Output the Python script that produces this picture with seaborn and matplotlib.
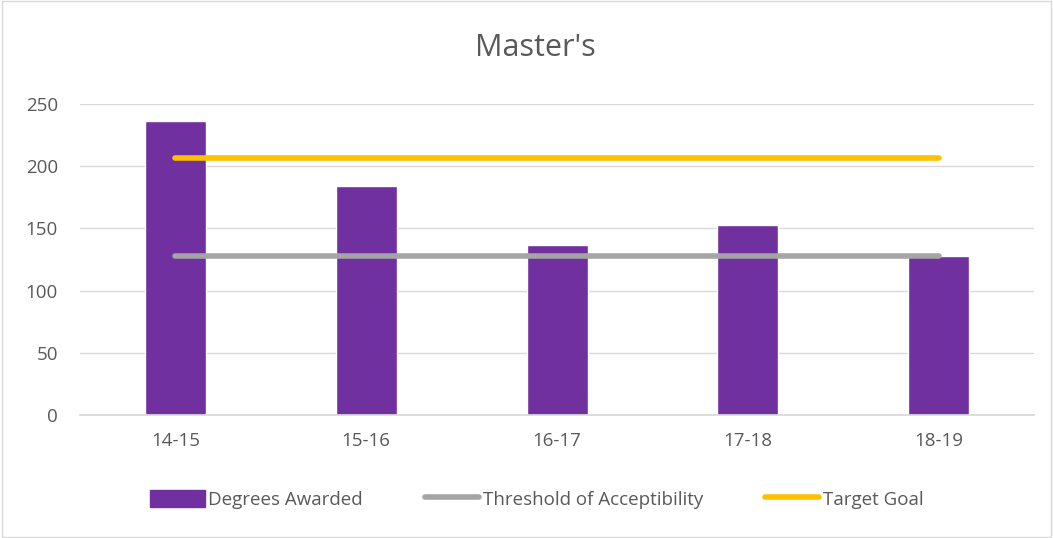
import matplotlib
matplotlib.use("Agg")
import matplotlib.pyplot as plt
import seaborn as sns
import pandas as pd
from matplotlib.patches import Patch
from matplotlib.lines import Line2D

years = ["14-15", "15-16", "16-17", "17-18", "18-19"]
degrees = [236, 184, 137, 153, 128]
threshold = [128, 128, 128, 128, 128]
target = [207, 207, 207, 207, 207]

purple = "#7030A0"
gray = "#A5A5A5"
gold = "#FFC000"
textc = "#595959"

sns.set_theme(style="white")
plt.rcParams["font.family"] = ["Open Sans", "DejaVu Sans"]

fig = plt.figure(figsize=(10.53, 5.38), dpi=100)
ax = fig.add_axes([0.076, 0.2286, 0.906, 0.578])

df = pd.DataFrame({"year": years, "deg": degrees, "thr": threshold, "tgt": target})
sns.barplot(data=df, x="year", y="deg", color=purple, width=0.32, saturation=1, ax=ax)
xs = list(range(len(years)))
sns.lineplot(x=xs, y=threshold, color=gray, linewidth=4, ax=ax, solid_capstyle="round")
sns.lineplot(x=xs, y=target, color=gold, linewidth=4, ax=ax, solid_capstyle="round")

ax.set_xlim(-0.5, 4.5)
ax.set_ylim(0, 250)
ax.set_yticks([0, 50, 100, 150, 200, 250])
ax.set_xticks(xs)
ax.set_xticklabels(years)
ax.yaxis.grid(True, color="#D9D9D9", linewidth=1)
ax.set_axisbelow(True)
for s in ["top", "right", "left"]:
    ax.spines[s].set_visible(False)
ax.spines["bottom"].set_color("#D9D9D9")
ax.tick_params(axis="both", colors=textc, labelsize=13.5, length=0)
ax.tick_params(axis="y", pad=16)
ax.tick_params(axis="x", pad=12)
ax.set_xlabel("")
ax.set_ylabel("")

fig.text(0.508, 0.91, "Master's", ha="center", va="center", fontsize=22, color=textc)

handles = [Patch(color=purple),
           Line2D([0], [0], color=gray, linewidth=4, solid_capstyle="round"),
           Line2D([0], [0], color=gold, linewidth=4, solid_capstyle="round")]
labels = ["Degrees Awarded", "Threshold of Acceptibility", "Target Goal"]
leg = fig.legend(handles, labels, loc="center", bbox_to_anchor=(0.51, 0.072), ncol=3,
                 frameon=False, fontsize=13.5, handlelength=2.9, handleheight=1.0,
                 handletextpad=0.2, columnspacing=3.3, labelcolor=textc)

border = plt.Rectangle((0.002, 0.002), 0.996, 0.996, transform=fig.transFigure,
                       fill=False, edgecolor="#D9D9D9", linewidth=1)
fig.add_artist(border)

fig.savefig("out.png", dpi=100, facecolor="white")
